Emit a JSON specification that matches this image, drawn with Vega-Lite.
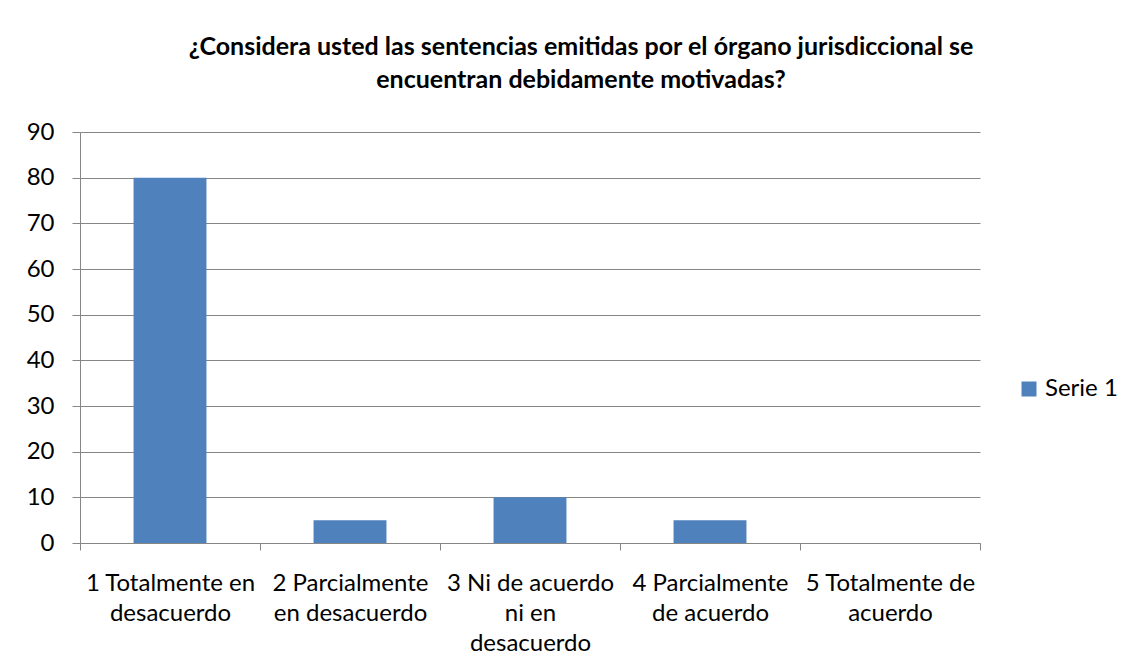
{
  "$schema": "https://vega.github.io/schema/vega-lite/v6.json",
  "autosize": {"type": "none"},
  "padding": {"left": 80, "top": 132, "right": 149, "bottom": 123},
  "width": 900,
  "height": 411,
  "background": "white",
  "title": {
    "text": ["¿Considera usted las sentencias emitidas por el órgano jurisdiccional se", "encuentran debidamente motivadas?"],
    "anchor": "middle",
    "frame": "group",
    "dx": 51,
    "font": "Lato",
    "fontSize": 25,
    "fontWeight": "bold",
    "color": "#000000",
    "lineHeight": 33,
    "offset": 27
  },
  "data": {
    "values": [
      {"respuesta": "1 Totalmente en desacuerdo", "serie": "Serie 1", "valor": 80},
      {"respuesta": "2 Parcialmente en desacuerdo", "serie": "Serie 1", "valor": 5},
      {"respuesta": "3 Ni de acuerdo ni en desacuerdo", "serie": "Serie 1", "valor": 10},
      {"respuesta": "4 Parcialmente de acuerdo", "serie": "Serie 1", "valor": 5},
      {"respuesta": "5 Totalmente de acuerdo", "serie": "Serie 1", "valor": 0}
    ]
  },
  "mark": {"type": "bar", "width": {"band": 0.405}},
  "encoding": {
    "x": {
      "field": "respuesta",
      "type": "nominal",
      "sort": null,
      "scale": {"paddingInner": 0, "paddingOuter": 0},
      "axis": {
        "title": null,
        "labelAngle": 0,
        "labelAlign": "center",
        "labelBaseline": "top",
        "labelFont": "Lato",
        "labelFontSize": 24,
        "labelColor": "#000000",
        "labelLineHeight": 30,
        "labelPadding": 21,
        "labelOverlap": false,
        "labelBound": false,
        "labelLimit": 0,
        "tickBand": "extent",
        "tickSize": 7,
        "tickColor": "#868686",
        "domainColor": "#868686",
        "grid": false,
        "labelExpr": "datum.value == '1 Totalmente en desacuerdo' ? ['1 Totalmente en', 'desacuerdo'] : datum.value == '2 Parcialmente en desacuerdo' ? ['2 Parcialmente', 'en desacuerdo'] : datum.value == '3 Ni de acuerdo ni en desacuerdo' ? ['3 Ni de acuerdo', 'ni en', 'desacuerdo'] : datum.value == '4 Parcialmente de acuerdo' ? ['4 Parcialmente', 'de acuerdo'] : datum.value == '5 Totalmente de acuerdo' ? ['5 Totalmente de', 'acuerdo'] : ''"
      }
    },
    "y": {
      "field": "valor",
      "type": "quantitative",
      "scale": {"domain": [0, 90], "nice": false},
      "axis": {
        "title": null,
        "values": [0, 10, 20, 30, 40, 50, 60, 70, 80, 90],
        "labelFont": "Lato",
        "labelFontSize": 24,
        "labelColor": "#000000",
        "labelPadding": 18,
        "tickSize": 8,
        "tickColor": "#868686",
        "domainColor": "#868686",
        "gridColor": "#868686",
        "grid": true
      }
    },
    "color": {
      "field": "serie",
      "type": "nominal",
      "scale": {"range": ["#4F81BD"]},
      "legend": {
        "title": null,
        "orient": "none",
        "legendX": 937,
        "legendY": 245,
        "symbolType": "square",
        "symbolSize": 225,
        "symbolStrokeWidth": 0,
        "labelFont": "Lato",
        "labelFontSize": 24,
        "labelColor": "#000000",
        "labelOffset": 4,
        "padding": 0
      }
    }
  },
  "config": {
    "view": {"stroke": null},
    "axis": {"domainWidth": 1, "tickWidth": 1, "gridWidth": 1}
  }
}
